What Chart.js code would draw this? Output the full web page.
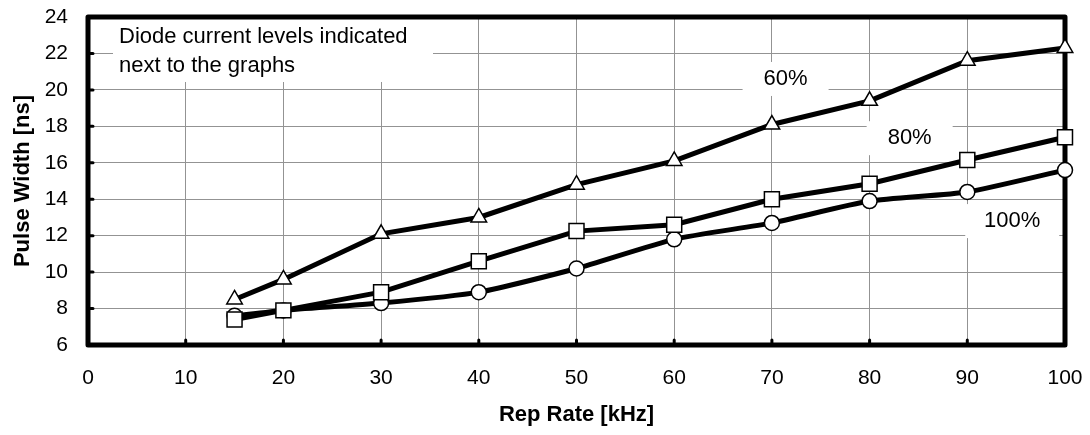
<!DOCTYPE html>
<html>
<head>
<meta charset="utf-8">
<script src="https://cdn.jsdelivr.net/npm/chart.js@4.4.1/dist/chart.umd.min.js"></script>
<style>
    html, body { margin: 0; padding: 0; background: #fff; }
    #wrap { width: 1090px; height: 435px; }
</style>
</head>
<body>
<div id="wrap"><canvas id="pulseChart" width="1090" height="435"></canvas></div>
<script>
// Rep rate in kHz (x) and pulse width in ns (y)
const rates = [15, 20, 30, 40, 50, 60, 70, 80, 90, 100];
const width60 = [8.5, 9.6, 12.1, 13.0, 14.8, 16.1, 18.1, 19.4, 21.6, 22.3];
const width80 = [7.4, 7.9, 8.9, 10.6, 12.25, 12.6, 14.0, 14.85, 16.15, 17.4];
const width100 = [7.6, 7.9, 8.3, 8.9, 10.2, 11.8, 12.7, 13.9, 14.4, 15.6];

const seriesLabels = ['60%', '80%', '100%'];
const noteLines = ['Diode current levels indicated', 'next to the graphs'];
const xTitle = 'Rep Rate [kHz]';
const yTitle = 'Pulse Width [ns]';

const FONT = "'Liberation Sans', Arial, sans-serif";

function toPoints(ys) {
    return rates.map((r, i) => ({ x: r, y: ys[i] }));
}

// frame, inner tick marks and text boxes (drawn under the lines)
const framePlugin = {
    id: 'frame',
    beforeDatasetsDraw(chart) {
        const { ctx, chartArea: a, scales } = chart;
        const xs = scales.x, ys = scales.y;
        ctx.save();

        // note in the top left corner
        ctx.fillStyle = '#fff';
        ctx.fillRect(a.left + 25, a.top + 2, 320, 63);
        ctx.fillStyle = '#000';
        ctx.font = '22px ' + FONT;
        ctx.textAlign = 'left';
        ctx.textBaseline = 'alphabetic';
        ctx.fillText(noteLines[0], a.left + 31, a.top + 26);
        ctx.fillText(noteLines[1], a.left + 31, a.top + 55);

        // labels next to the graphs
        const spots = [[71.4, 20.6, 86], [84.1, 17.35, 86], [94.6, 12.8, 94]];
        ctx.textAlign = 'center';
        ctx.textBaseline = 'middle';
        spots.forEach((s, i) => {
            const px = xs.getPixelForValue(s[0]);
            const py = ys.getPixelForValue(s[1]);
            ctx.fillStyle = '#fff';
            ctx.fillRect(px - s[2] / 2, py - 17, s[2], 34);
            ctx.fillStyle = '#000';
            ctx.fillText(seriesLabels[i], px, py);
        });

        // little tick dots pointing inside
        ctx.strokeStyle = '#000';
        ctx.lineWidth = 3;
        ctx.lineCap = 'round';
        ctx.beginPath();
        for (let v = 10; v < 100; v += 10) {
            const px = xs.getPixelForValue(v);
            ctx.moveTo(px, a.bottom);
            ctx.lineTo(px, a.bottom - 5);
        }
        for (let v = 8; v < 24; v += 2) {
            const py = ys.getPixelForValue(v);
            ctx.moveTo(a.left, py);
            ctx.lineTo(a.left + 5, py);
        }
        ctx.stroke();

        // thick border round the plot area
        ctx.lineWidth = 5;
        ctx.lineCap = 'butt';
        ctx.lineJoin = 'round';
        ctx.strokeRect(a.left, a.top, a.right - a.left, a.bottom - a.top);
        ctx.restore();
    }
};

function series(label, ys, shape, radius, tension) {
    return {
        label: label,
        data: toPoints(ys),
        borderColor: '#000',
        borderWidth: 5,
        tension: tension,
        pointStyle: shape,
        pointRadius: radius,
        pointHoverRadius: radius,
        pointBackgroundColor: '#fff',
        pointBorderColor: '#000',
        pointBorderWidth: 1.5,
        clip: false
    };
}

const gridColor = hide => ctx => (ctx.tick && hide.includes(ctx.tick.value)) ? 'rgba(0,0,0,0)' : '#939393';

const ctx = document.getElementById('pulseChart').getContext('2d');
new Chart(ctx, {
    type: 'line',
    data: {
        datasets: [
            series(seriesLabels[0], width60, 'triangle', 9, 0),
            series(seriesLabels[1], width80, 'rect', 10.6, 0),
            series(seriesLabels[2], width100, 'circle', 7.5, 0.2)
        ]
    },
    options: {
        responsive: false,
        animation: false,
        layout: { padding: { top: 17, right: 25, bottom: 0, left: 0 } },
        plugins: {
            legend: { display: false },
            tooltip: { enabled: false }
        },
        scales: {
            x: {
                type: 'linear',
                min: 0,
                max: 100,
                afterFit(scale) {
                    scale.height = 90;
                    scale.paddingLeft = 0;
                    scale.paddingRight = 0;
                },
                ticks: {
                    stepSize: 10,
                    padding: 21,
                    color: '#000',
                    font: { family: FONT, size: 21 }
                },
                grid: { color: gridColor([0, 100]), lineWidth: 1, drawTicks: false },
                border: { display: false },
                title: {
                    display: true,
                    text: xTitle,
                    color: '#000',
                    font: { family: FONT, size: 22, weight: 'bold' },
                    padding: { top: 0, bottom: 7 }
                }
            },
            y: {
                type: 'linear',
                min: 6,
                max: 24,
                afterFit(scale) {
                    scale.width = 88;
                    scale.paddingTop = 0;
                    scale.paddingBottom = 0;
                },
                ticks: {
                    stepSize: 2,
                    padding: 20,
                    color: '#000',
                    font: { family: FONT, size: 21 }
                },
                grid: { color: gridColor([6, 24]), lineWidth: 1, drawTicks: false },
                border: { display: false },
                title: {
                    display: true,
                    text: yTitle,
                    color: '#000',
                    font: { family: FONT, size: 22, weight: 'bold' },
                    padding: { top: 10, bottom: 0 }
                }
            }
        }
    },
    plugins: [framePlugin]
});
</script>
</body>
</html>
